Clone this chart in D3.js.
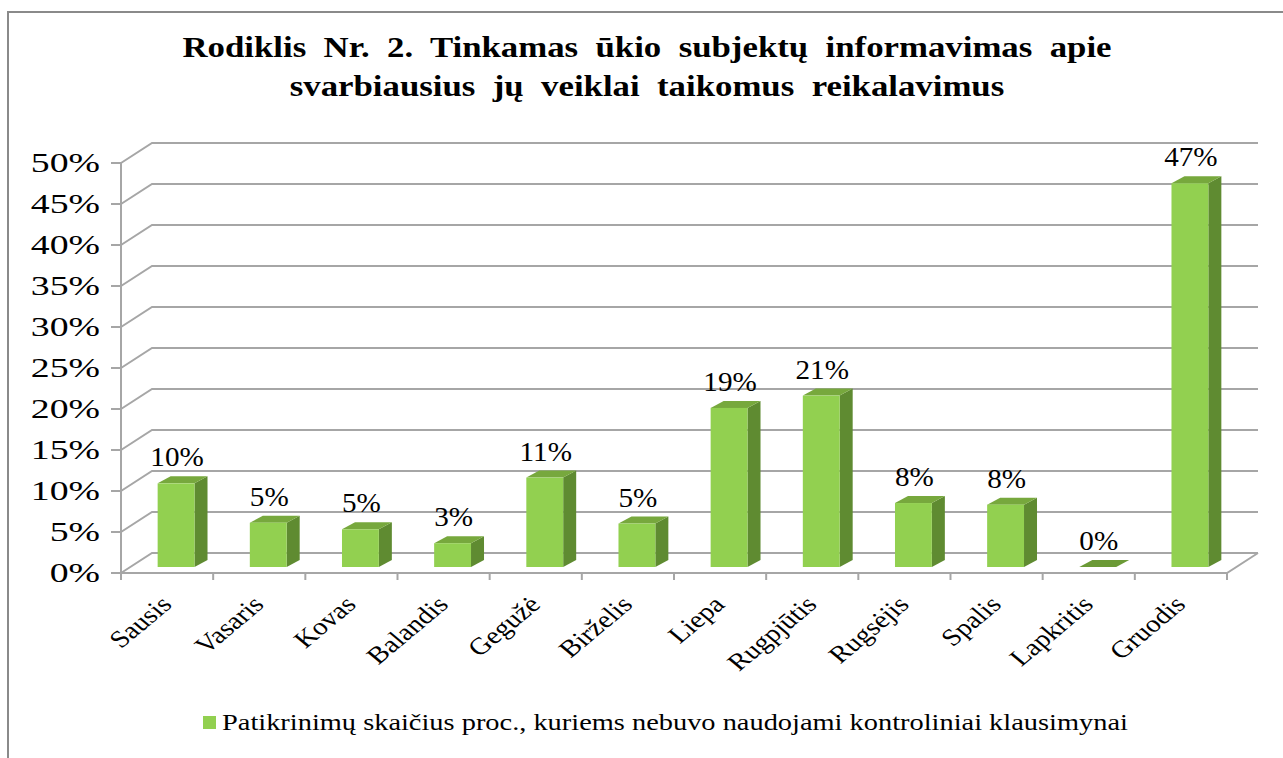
<!DOCTYPE html>
<html>
<head>
<meta charset="utf-8">
<script src="https://cdn.jsdelivr.net/npm/d3@7/dist/d3.min.js"></script>
<style>
  body { margin: 0; background: #fff; }
  svg text { font-family: "Liberation Serif", "Times New Roman", serif; }
</style>
</head>
<body>
<div id="chart"></div>
<script>
// duomenys
const categories = ['Sausis', 'Vasaris', 'Kovas', 'Balandis', 'Gegužė', 'Birželis',
    'Liepa', 'Rugpjūtis', 'Rugsėjis', 'Spalis', 'Lapkritis', 'Gruodis'];
const values = [10.2, 5.4, 4.6, 2.9, 10.9, 5.3, 19.4, 20.9, 7.8, 7.6, 0, 46.8];
const labels = ['10%', '5%', '5%', '3%', '11%', '5%', '19%', '21%', '8%', '8%', '0%', '47%'];
const yTicks = [0, 5, 10, 15, 20, 25, 30, 35, 40, 45, 50];
const titleLines = ['Rodiklis  Nr.  2.  Tinkamas  ūkio  subjektų  informavimas  apie',
    'svarbiausius  jų  veiklai  taikomus  reikalavimus'];
const legendText = 'Patikrinimų skaičius proc., kuriems nebuvo naudojami kontroliniai klausimynai';

const width = 1283, height = 758;
const stretch = 1.2; // originalas ištemptas horizontaliai

const svg = d3.select('#chart').append('svg')
    .attr('width', width)
    .attr('height', height);

// rėmelis
svg.append('rect')
    .attr('x', 8).attr('y', 12)
    .attr('width', 1290).attr('height', 760)
    .attr('fill', 'none')
    .attr('stroke', '#8a8a8a')
    .attr('stroke-width', 2);

// skalės
const x = d3.scaleBand().domain(categories).range([121, 1227]);
const y = d3.scaleLinear().domain([0, 50]).range([573, 163]);

// 3D gylis
const wallDx = 31, wallDy = -20;
const barFront = { dx: 9, dy: -6 };
const barBack = { dx: 22, dy: -13 };
const gridColor = '#a6a6a6';

// pavadinimas
svg.append('g').selectAll('text')
    .data(titleLines)
    .enter()
    .append('text')
    .attr('transform', (d, i) => `translate(647,${57 + i * 39}) scale(${stretch},1)`)
    .attr('text-anchor', 'middle')
    .attr('font-size', '29px')
    .attr('font-weight', 'bold')
    .style('white-space', 'pre')
    .text(d => d);

// tinklelis: šoninė siena ir galinė siena
const grid = svg.append('g');
grid.selectAll('.side')
    .data(yTicks)
    .enter()
    .append('polyline')
    .attr('points', d => `121,${y(d)} ${121 + wallDx},${y(d) + wallDy} ${1227 + wallDx},${y(d) + wallDy}`)
    .attr('fill', 'none')
    .attr('stroke', gridColor)
    .attr('stroke-width', 2);

// grindų priekinis ir dešinysis kraštas
grid.append('polyline')
    .attr('points', `121,${y(0)} 1227,${y(0)} ${1227 + wallDx},${y(0) + wallDy}`)
    .attr('fill', 'none')
    .attr('stroke', gridColor)
    .attr('stroke-width', 2);

// Y ašis
grid.append('line')
    .attr('x1', 121).attr('x2', 121)
    .attr('y1', y(50)).attr('y2', y(0))
    .attr('stroke', gridColor).attr('stroke-width', 2);
grid.selectAll('.ytick')
    .data(yTicks)
    .enter()
    .append('line')
    .attr('x1', 111).attr('x2', 121)
    .attr('y1', d => y(d)).attr('y2', d => y(d))
    .attr('stroke', gridColor).attr('stroke-width', 2);

svg.append('g').selectAll('text')
    .data(yTicks)
    .enter()
    .append('text')
    .attr('transform', d => `translate(100,${y(d) + 9}) scale(1.4,1)`)
    .attr('text-anchor', 'end')
    .attr('font-size', '27px')
    .text(d => d + '%');

// X ašies padalos
const xEdges = categories.map(c => x(c)).concat([1227]);
grid.selectAll('.xtick')
    .data(xEdges)
    .enter()
    .append('line')
    .attr('x1', d => d).attr('x2', d => d)
    .attr('y1', y(0)).attr('y2', y(0) + 7)
    .attr('stroke', gridColor).attr('stroke-width', 2);

// stulpeliai
const barW = x.bandwidth() * 0.4;
const bars = svg.append('g').selectAll('g')
    .data(categories.map((c, i) => ({ cat: c, value: values[i], label: labels[i] })))
    .enter()
    .append('g');

function barGeom(d) {
    const x0 = x(d.cat) + (x.bandwidth() - barW) / 2 + barFront.dx;
    const x1 = x0 + barW;
    const yb = y(0) + barFront.dy;
    const yt = y(d.value) + barFront.dy;
    const ddx = barBack.dx - barFront.dx, ddy = barBack.dy - barFront.dy;
    return { x0, x1, yb, yt, ddx, ddy };
}

bars.filter(d => d.value > 0).append('path')
    .attr('d', d => {
        const g = barGeom(d);
        return `M${g.x1},${g.yb} L${g.x1 + g.ddx},${g.yb + g.ddy} L${g.x1 + g.ddx},${g.yt + g.ddy} L${g.x1},${g.yt} Z`;
    })
    .attr('fill', '#5f8b31');

bars.append('path')
    .attr('d', d => {
        const g = barGeom(d);
        return `M${g.x0},${g.yt} L${g.x1},${g.yt} L${g.x1 + g.ddx},${g.yt + g.ddy} L${g.x0 + g.ddx},${g.yt + g.ddy} Z`;
    })
    .attr('fill', d => d.value > 0 ? '#77a83d' : '#6b9a36');

bars.filter(d => d.value > 0).append('rect')
    .attr('x', d => barGeom(d).x0)
    .attr('y', d => barGeom(d).yt)
    .attr('width', barW)
    .attr('height', d => barGeom(d).yb - barGeom(d).yt)
    .attr('fill', '#92d050');

// reikšmių žymės
bars.append('text')
    .attr('transform', d => {
        const g = barGeom(d);
        return `translate(${g.x0 + barW / 2 + 1},${g.yt + g.ddy - 10}) scale(1.08,1)`;
    })
    .attr('text-anchor', 'middle')
    .attr('font-size', '27px')
    .text(d => d.label);

// kategorijų pavadinimai
svg.append('g').selectAll('text')
    .data(categories)
    .enter()
    .append('text')
    .attr('transform', d => `translate(${x(d) + x.bandwidth() / 2 + 6},${y(0) + 33}) scale(${stretch},1) rotate(-45)`)
    .attr('text-anchor', 'end')
    .attr('font-size', '24px')
    .text(d => d);

// legenda
const legend = svg.append('g');
legend.append('rect')
    .attr('x', 203).attr('y', 716)
    .attr('width', 13).attr('height', 13)
    .attr('fill', '#92d050');
legend.append('text')
    .attr('transform', `translate(222,730) scale(1.235,1)`)
    .attr('font-size', '23px')
    .text(legendText);
</script>
</body>
</html>
